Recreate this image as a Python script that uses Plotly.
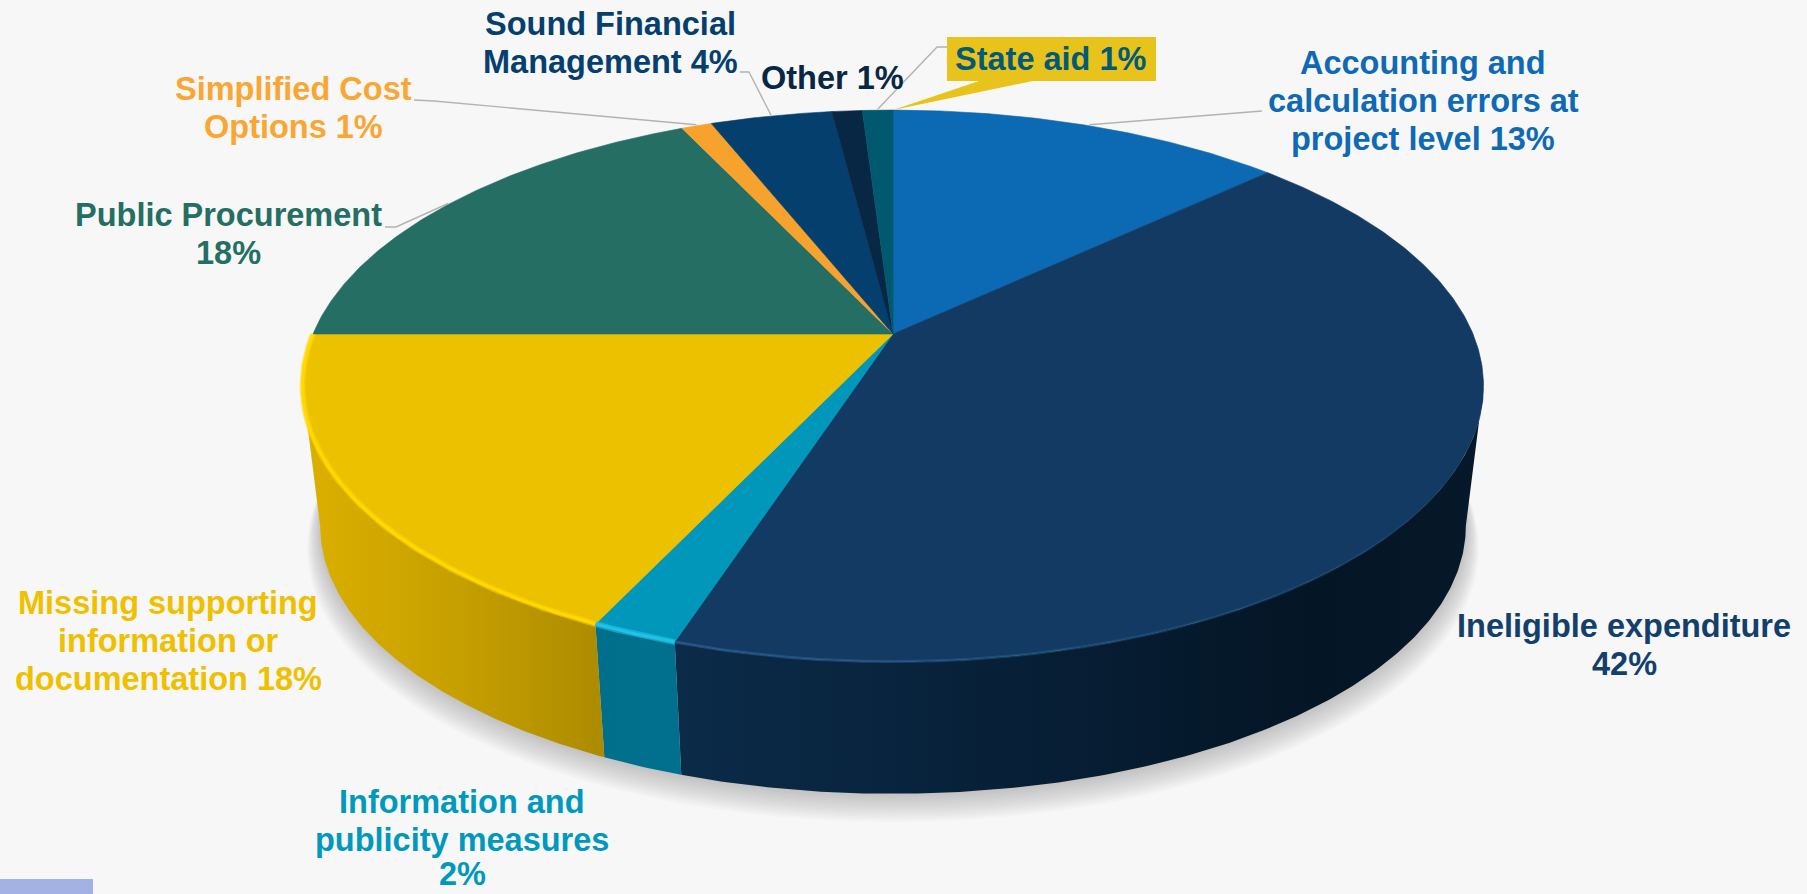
import numpy as np
import plotly.graph_objects as go

# Error categories and their shares, clockwise from twelve o'clock
categories = [
    "Accounting and calculation errors at project level",
    "Ineligible expenditure",
    "Information and publicity measures",
    "Missing supporting information or documentation",
    "Public Procurement",
    "Simplified Cost Options",
    "Sound Financial Management",
    "Other",
    "State aid",
]
shares = [13, 42, 2, 18, 18, 1, 4, 1, 1]

label_lines = [
    ["Accounting and", "calculation errors at", "project level 13%"],
    ["Ineligible expenditure", "42%"],
    ["Information and", "publicity measures", "2%"],
    ["Missing supporting", "information or", "documentation 18%"],
    ["Public Procurement", "18%"],
    ["Simplified Cost", "Options 1%"],
    ["Sound Financial", "Management 4%"],
    ["Other 1%"],
    ["State aid 1%"],
]

face_colors = ["#0c69b4", "#123a62", "#0097ba", "#ecc100", "#246e64",
               "#f6a22d", "#053f6e", "#082744", "#00596e"]
text_colors = ["#0f6ab5", "#133f6b", "#0099bd", "#efc000", "#246e64",
               "#f9a633", "#053f6e", "#082744", "#005a78"]
label_x = [1423, 1624, 462, 168, 228, 293, 610, 832, 1051]
label_y = [101, 645, 840, 641, 234, 108, 43, 78, 59]
LABEL_SIZE = 32.5
LINE_PITCH = 37.8
PAGE_HEIGHT = 894

# Perspective of the disc on the page
CX, CY = 893.0, 334.0
FX, FY, TILT = 580.0, 266.0, 0.188
FLOOR_DROP, FLOOR_SCALE = 142.0, 0.97
PAGE_BG = "#f7f7f7"


def project(theta_deg, scale=1.0, drop=0.0):
    """Map a clockwise angle on the disc rim to page coordinates."""
    t = np.radians(np.asarray(theta_deg, dtype=float))
    px, py = np.sin(t), -np.cos(t)
    w = 1 - TILT * py
    return CX + scale * FX * px / w, CY + drop + scale * FY * py / w


def arc(a, b, step=0.5):
    n = max(2, int(abs(b - a) / step) + 1)
    return np.linspace(a, b, n)


edges = np.concatenate([[0], np.cumsum(shares)]) * 3.6
VISIBLE_FROM = np.degrees(np.arccos(-TILT))
VISIBLE_TO = 360 - VISIBLE_FROM

fig = go.Figure()


def add_poly(xs, ys, color=None, gradient=None, name=None):
    kwargs = dict(x=xs, y=ys, mode="lines", fill="toself", hoverinfo="skip",
                  showlegend=False, name=name)
    if gradient:
        kwargs["fillgradient"] = dict(type="horizontal", colorscale=gradient)
        kwargs["line"] = dict(width=0)
    else:
        kwargs["fillcolor"] = color
        kwargs["line"] = dict(width=0.6, color=color)
    fig.add_trace(go.Scatter(**kwargs))


# Soft shadow on the floor, built from stacked translucent discs
ring = arc(0, 360, 1.5)
for i in range(12):
    sx, sy = project(ring, FLOOR_SCALE + 0.002 * (11 - i), FLOOR_DROP + 1 + 1.8 * (11 - i))
    fig.add_trace(go.Scatter(x=sx, y=sy, mode="lines", fill="toself",
                             fillcolor="rgba(100,100,100,0.03)", line=dict(width=0),
                             hoverinfo="skip", showlegend=False))

# Outer wall, one band per slice that faces the viewer
wall_gradients = {
    1: [[0, "#0b2b49"], [0.55, "#061c31"], [0.8, "#041524"], [1, "#06192a"]],
    2: [[0, "#006f8c"], [1, "#00708e"]],
    3: [[0, "#dcb000"], [0.5, "#c7a000"], [1, "#ac8b00"]],
}
for idx, grad in wall_gradients.items():
    a = max(edges[idx], VISIBLE_FROM)
    b = min(edges[idx + 1], VISIBLE_TO)
    top = arc(a, b)
    tx, ty = project(top)
    bx, by = project(top[::-1], FLOOR_SCALE, FLOOR_DROP)
    add_poly(np.r_[tx, bx, tx[0]], np.r_[ty, by, ty[0]], gradient=grad, name=categories[idx])

# Top face
for idx, color in enumerate(face_colors):
    rim = arc(edges[idx], edges[idx + 1])
    rx, ry = project(rim)
    add_poly(np.r_[CX, rx, CX], np.r_[CY, ry, CY], color=color, name=categories[idx])


# Bevel highlights along the near rim
def add_rim(a, b, color, width):
    rx, ry = project(arc(a, b))
    fig.add_trace(go.Scatter(x=rx, y=ry, mode="lines", hoverinfo="skip", showlegend=False,
                             line=dict(color=color, width=width)))


add_rim(edges[3], edges[4], "rgba(255,216,0,0.55)", 6)
add_rim(edges[3], edges[4], "#ffd900", 3)
add_rim(edges[2], edges[3], "rgba(40,200,235,0.55)", 6)
add_rim(edges[2], edges[3], "#22c1e6", 3)
fade = arc(edges[2], 120, 6)
for j in range(len(fade) - 1):
    alpha = 0.55 * (1 - j / (len(fade) - 1))
    add_rim(fade[j], fade[j + 1], f"rgba(50,105,160,{alpha:.2f})", 3)

# Leader lines run from the middle of a slice's rim to its label
leader_elbows = {
    0: [(1262, 111)],
    4: [(396, 227), (385, 227)],
    5: [(434, 101), (414, 100)],
    6: [(749, 72), (740, 72)],
    8: [(937, 47), (947, 47)],
}
for idx, pts in leader_elbows.items():
    mx, my = project((edges[idx] + edges[idx + 1]) / 2)
    xs = [float(mx)] + [p[0] for p in pts]
    ys = [float(my) - 1] + [p[1] for p in pts]
    fig.add_trace(go.Scatter(x=xs, y=ys, mode="lines", hoverinfo="skip", showlegend=False,
                             line=dict(color="#b3b3b3", width=1.4)))

# Callout box behind the State aid label, its tail pointing at the slice
tip_x, tip_y = project(edges[-1])
fig.add_trace(go.Scatter(x=[979, 1033, float(tip_x), 979], y=[81, 81, float(tip_y), 81],
                         mode="lines", fill="toself", fillcolor="#e8c31c",
                         line=dict(width=0), hoverinfo="skip", showlegend=False))

# Each label line is placed on its own so the line pitch stays tight,
# and no line may run past the bottom of the page
annotations = []
for x, y, lines, c in zip(label_x, label_y, label_lines, text_colors):
    offset = (len(lines) - 1) / 2
    for n, line in enumerate(lines):
        line_y = min(y + (n - offset) * LINE_PITCH, PAGE_HEIGHT - 20)
        annotations.append(dict(
            x=x, y=line_y, xref="x", yref="y",
            text=f"<b>{line}</b>", showarrow=False,
            xanchor="center", yanchor="middle", align="center",
            font=dict(family="Liberation Sans, Arial, sans-serif", size=LABEL_SIZE, color=c),
        ))

fig.update_layout(
    width=1807, height=PAGE_HEIGHT, autosize=False,
    margin=dict(l=0, r=0, t=0, b=0, pad=0),
    paper_bgcolor=PAGE_BG, plot_bgcolor=PAGE_BG,
    xaxis=dict(range=[0, 1807], visible=False, fixedrange=True),
    yaxis=dict(range=[PAGE_HEIGHT, 0], visible=False, fixedrange=True),
    showlegend=False,
    annotations=annotations,
    shapes=[
        dict(type="rect", xref="x", yref="y", x0=947, x1=1156, y0=37, y1=81,
             fillcolor="#e8c31c", line=dict(width=0), layer="below"),
        dict(type="rect", xref="x", yref="y", x0=0, x1=93, y0=879, y1=PAGE_HEIGHT,
             fillcolor="#a3b1e4", line=dict(width=0), layer="below"),
    ],
)

fig.write_html("out.html", config=dict(displayModeBar=False))
